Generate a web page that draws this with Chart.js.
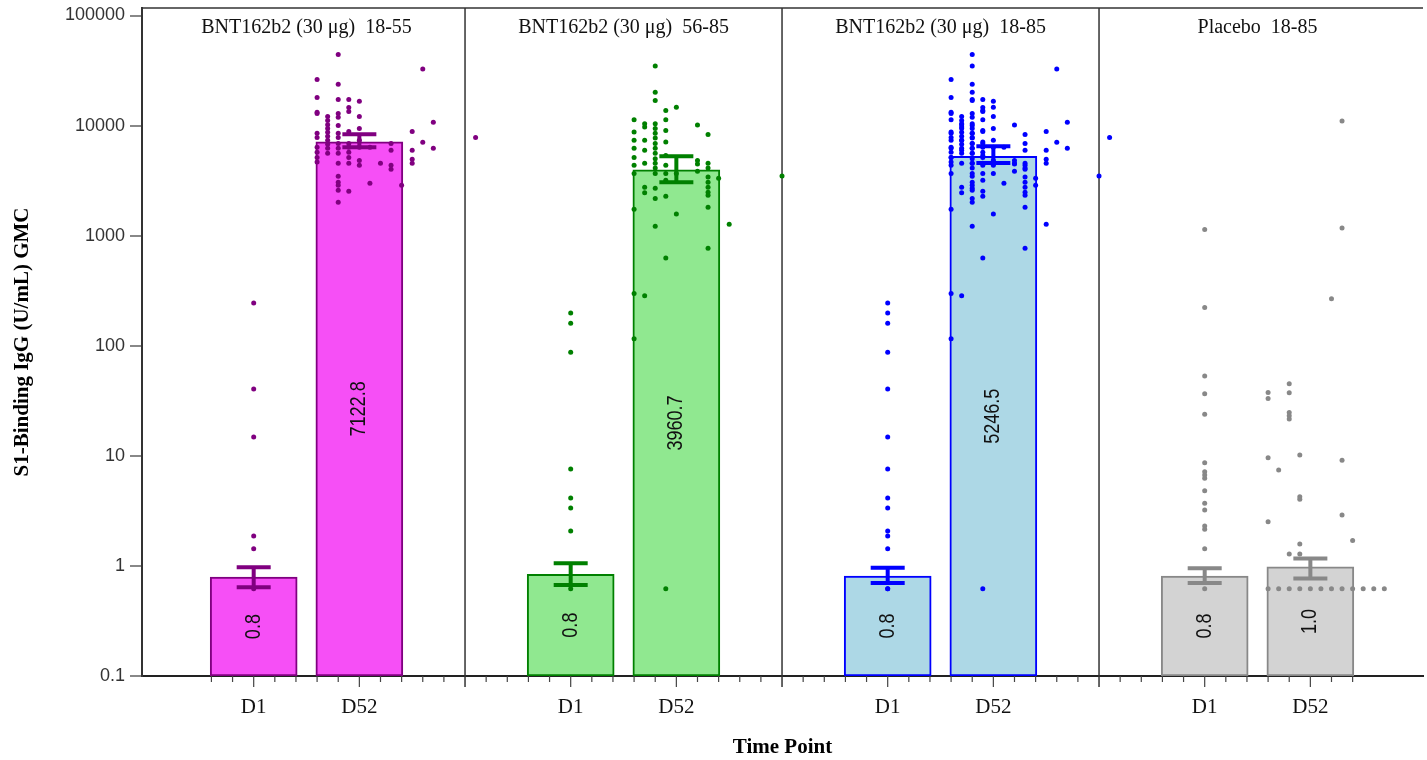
<!DOCTYPE html>
<html>
<head>
<meta charset="utf-8">
<script src="https://cdn.jsdelivr.net/npm/chart.js@4.4.1/dist/chart.umd.min.js"></script>
<style>
  body { margin: 0; background: #fff; }
  #wrap { width: 1427px; height: 760px; }
</style>
</head>
<body>
<div id="wrap"><canvas id="gmc" width="1427" height="760"></canvas></div>
<script>
// panels and time points
var groups = ["BNT162b2 (30 \u03bcg)  18-55", "BNT162b2 (30 \u03bcg)  56-85", "BNT162b2 (30 \u03bcg)  18-85", "Placebo  18-85"];
var timePoints = ["D1", "D52"];

// GMC and 95% CI per panel: [D1, D52]
var gmc    = [[0.79, 7122.8], [0.84, 3960.7], [0.81, 5246.5], [0.81, 0.98]];
var ciLow  = [[0.64, 6350],   [0.67, 3050],   [0.70, 4580],   [0.70, 0.77]];
var ciHigh = [[0.97, 8340],   [1.06, 5260],   [0.96, 6490],   [0.95, 1.17]];

var yTicks = [0.1, 1, 10, 100, 1000, 10000, 100000];
var yMin = 0.1, yMax = 117000;

// individual results: [jitter column (tenths of a slot), U/mL]
var d1_1855 = [[0,244],[0,40.4],[0,14.8],[0,1.87],[0,1.43],[0,0.62]];
var d52_1855 = [
  [-4,26200],[-4,18000],[-4,13200],[-4,12900],[-4,8500],[-4,7810],[-4,6340],[-4,5740],[-4,5140],[-4,4660],
  [-3,12100],[-3,11100],[-3,10200],[-3,9430],[-3,8680],[-3,7990],[-3,7360],[-3,6780],[-3,6210],[-3,5600],
  [-2,44300],[-2,23700],[-2,17300],[-2,12900],[-2,11900],[-2,10000],[-2,8500],[-2,7810],[-2,6890],[-2,6210],
  [-2,5600],[-2,4540],[-2,3460],[-2,3050],[-2,2870],[-2,2580],[-2,2010],
  [-1,17300],[-1,14600],[-1,13400],[-1,8860],[-1,6890],[-1,6340],[-1,5740],[-1,5140],[-1,4540],[-1,2530],
  [0,16600],[0,12100],[0,9430],[0,7360],[0,6340],[0,4830],[0,4360],
  [1,6340],[1,2990],[2,4540],[3,6890],[3,5960],[3,4360],[3,4010],[4,2870],
  [5,8860],[5,5960],[5,4940],[5,4540],[6,32600],[6,7040],[7,10700],[7,6210],[11,7810]
];
var d1_5685 = [[0,198],[0,160],[0,87.5],[0,7.6],[0,4.14],[0,3.36],[0,2.08],[0,0.62]];
var d52_5685 = [
  [-4,11300],[-4,8730],[-4,7340],[-4,6210],[-4,5140],[-4,4360],[-4,3680],[-4,1740],[-4,298],[-4,116],
  [-3,10400],[-3,9690],[-3,7340],[-3,5960],[-3,4540],[-3,2750],[-3,2460],[-3,284],
  [-2,34700],[-2,20100],[-2,16900],[-2,10400],[-2,9430],[-2,8500],[-2,7700],[-2,6890],[-2,6210],[-2,5600],
  [-2,5000],[-2,4540],[-2,4120],[-2,3680],[-2,2700],[-2,2180],[-2,1220],
  [-1,13700],[-1,11300],[-1,9040],[-1,7080],[-1,5360],[-1,4360],[-1,3680],[-1,3180],[-1,2280],[-1,628],[-1,0.62],
  [0,14700],[0,3680],[0,1570],
  [2,10100],[2,4830],[2,4480],[2,3840],
  [3,8320],[3,4540],[3,4120],[3,3410],[3,3050],[3,2750],[3,2480],[3,2330],[3,1810],[3,769],
  [4,3320],[5,1270],[10,3480]
];
// 18-85 is both age groups together
var d1_1885 = d1_1855.concat(d1_5685);
var d52_1885 = d52_1855.concat(d52_5685);
var d1_placebo = [[0,1135],[0,223],[0,53],[0,36.6],[0,23.9],[0,8.66],[0,7.17],[0,6.70],[0,6.25],[0,4.82],
  [0,3.71],[0,3.22],[0,2.31],[0,2.15],[0,1.43],[0,0.62]];
var d52_placebo = [[2,267],[3,11000],[3,1175],[-2,45.1],[-2,37.4],[-4,37.7],[-4,33.2],[-2,24.8],[-2,23.1],[-2,21.6],
  [-4,9.6],[-1,10.2],[3,9.1],[-3,7.43],[-1,4.25],[-1,4.03],[3,2.90],[-4,2.52],[4,1.70],[-1,1.58],[-2,1.28],[-1,1.28],
  [-4,0.62],[-3,0.62],[-2,0.62],[-1,0.62],[0,0.62],[1,0.62],[2,0.62],[3,0.62],[4,0.62],[5,0.62],[6,0.62],[7,0.62]];

var points = [[d1_1855, d52_1855], [d1_5685, d52_5685], [d1_1885, d52_1885], [d1_placebo, d52_placebo]];

var fillColors = ["#F64FF6", "#90E890", "#ADD8E6", "#D3D3D3"];
var lineColors = ["#800080", "#008000", "#0000FF", "#888888"];

// each panel takes 3 slots on the x axis: D1 at +1, D52 at +2
function slot(gi, ti) { return gi * 3 + ti + 1; }

var barData = [], barFill = [], barLine = [];
groups.forEach(function (g, gi) {
  timePoints.forEach(function (t, ti) {
    barData.push({ x: slot(gi, ti), y: [yMin, gmc[gi][ti]] });
    barFill.push(fillColors[gi]);
    barLine.push(lineColors[gi]);
  });
});

var datasets = [{
  type: "bar",
  data: barData,
  backgroundColor: barFill,
  borderColor: barLine,
  borderWidth: 2,
  borderSkipped: false,
  barThickness: 87,
  order: 2
}];
groups.forEach(function (g, gi) {
  var pts = [];
  timePoints.forEach(function (t, ti) {
    points[gi][ti].forEach(function (p) {
      pts.push({ x: slot(gi, ti) + p[0] / 10, y: p[1] });
    });
  });
  datasets.push({
    type: "scatter",
    data: pts,
    pointRadius: 2.5,
    pointBorderWidth: 0,
    pointBackgroundColor: lineColors[gi],
    order: 1
  });
});

var panelPlugin = {
  id: "panels",
  beforeDatasetsDraw: function (chart) {
    var ctx = chart.ctx, xs = chart.scales.x, a = chart.chartArea;
    ctx.save();
    ctx.strokeStyle = "#333";
    ctx.lineWidth = 1.5;
    ctx.beginPath();
    ctx.moveTo(a.left, a.top);
    ctx.lineTo(a.right, a.top);
    ctx.stroke();
    for (var g = 1; g < groups.length; g++) {
      var px = xs.getPixelForValue(g * 3);
      ctx.beginPath();
      ctx.moveTo(px, a.top);
      ctx.lineTo(px, a.bottom + 11);
      ctx.stroke();
    }
    // minor / major tick marks
    ctx.strokeStyle = "#444";
    ctx.lineWidth = 1.2;
    for (var i = 3; i <= groups.length * 15 - 3; i++) {
      var v = i / 5;
      if (i % 15 === 0) continue;
      var major = i % 5 === 0;
      var tx = xs.getPixelForValue(v);
      ctx.beginPath();
      ctx.moveTo(tx, a.bottom);
      ctx.lineTo(tx, a.bottom + (major ? 11 : 6));
      ctx.stroke();
    }
    ctx.restore();
  },
  afterDatasetsDraw: function (chart) {
    var ctx = chart.ctx, xs = chart.scales.x, ys = chart.scales.y, a = chart.chartArea;
    ctx.save();
    groups.forEach(function (g, gi) {
      timePoints.forEach(function (t, ti) {
        var cx = xs.getPixelForValue(slot(gi, ti));
        var yLo = ys.getPixelForValue(ciLow[gi][ti]);
        var yHi = ys.getPixelForValue(ciHigh[gi][ti]);
        ctx.strokeStyle = lineColors[gi];
        ctx.lineWidth = 4;
        ctx.beginPath();
        ctx.moveTo(cx, yLo); ctx.lineTo(cx, yHi);
        ctx.moveTo(cx - 17, yLo); ctx.lineTo(cx + 17, yLo);
        ctx.moveTo(cx - 17, yHi); ctx.lineTo(cx + 17, yHi);
        ctx.stroke();

        var yMid = (ys.getPixelForValue(yMin) + ys.getPixelForValue(gmc[gi][ti])) / 2;
        ctx.save();
        ctx.translate(cx, yMid);
        ctx.rotate(-Math.PI / 2);
        ctx.scale(0.82, 1);
        ctx.font = '22px "Liberation Sans"';
        ctx.fillStyle = "#111";
        ctx.textAlign = "center";
        ctx.textBaseline = "middle";
        ctx.fillText(gmc[gi][ti].toFixed(1), 0, 0);
        ctx.restore();
      });
      ctx.font = '20px "Liberation Serif"';
      ctx.fillStyle = "#111";
      ctx.textAlign = "center";
      ctx.textBaseline = "middle";
      ctx.fillText(g, xs.getPixelForValue(gi * 3 + 1.5), a.top + 20);
    });
    ctx.restore();
  }
};

new Chart(document.getElementById("gmc"), {
  type: "bar",
  data: { datasets: datasets },
  plugins: [panelPlugin],
  options: {
    responsive: false,
    animation: false,
    layout: { padding: { top: 8, left: 0, right: 0, bottom: 0 } },
    plugins: { legend: { display: false }, tooltip: { enabled: false } },
    scales: {
      x: {
        type: "linear",
        min: -0.057,
        max: 12.066,
        offset: false,
        grid: { display: false, drawTicks: false, offset: false },
        border: { color: "#222", width: 2 },
        afterBuildTicks: function (scale) {
          var ticks = [];
          groups.forEach(function (g, gi) {
            timePoints.forEach(function (t, ti) { ticks.push({ value: slot(gi, ti) }); });
          });
          scale.ticks = ticks;
        },
        afterFit: function (scale) {
          scale.height = 84;
          scale.paddingLeft = 0;
          scale.paddingRight = 0;
        },
        ticks: {
          autoSkip: false,
          maxRotation: 0,
          padding: 19,
          color: "#111",
          font: { family: "Liberation Serif", size: 21 },
          callback: function (v) { return timePoints[(Math.round(v) - 1) % 3]; }
        },
        title: {
          display: true,
          text: "Time Point",
          color: "#000",
          font: { family: "Liberation Serif", size: 21, weight: "bold" },
          padding: { top: 0, bottom: 0 }
        }
      },
      y: {
        type: "logarithmic",
        min: yMin,
        max: yMax,
        grid: { drawOnChartArea: false, tickLength: 12, color: "#888", lineWidth: 2 },
        border: { color: "#333", width: 2 },
        afterBuildTicks: function (scale) {
          scale.ticks = yTicks.map(function (v) { return { value: v }; });
        },
        afterFit: function (scale) {
          scale.width = 142;
          scale.paddingTop = 0;
          scale.paddingBottom = 0;
        },
        ticks: {
          padding: 5,
          color: "#333",
          font: { family: "Liberation Sans", size: 18 },
          callback: function (v) { return String(v); }
        },
        title: {
          display: true,
          text: "S1-Binding IgG (U/mL) GMC",
          color: "#000",
          font: { family: "Liberation Serif", size: 21, weight: "bold" },
          padding: { top: 10, bottom: 0 }
        }
      }
    }
  }
});
</script>
</body>
</html>
